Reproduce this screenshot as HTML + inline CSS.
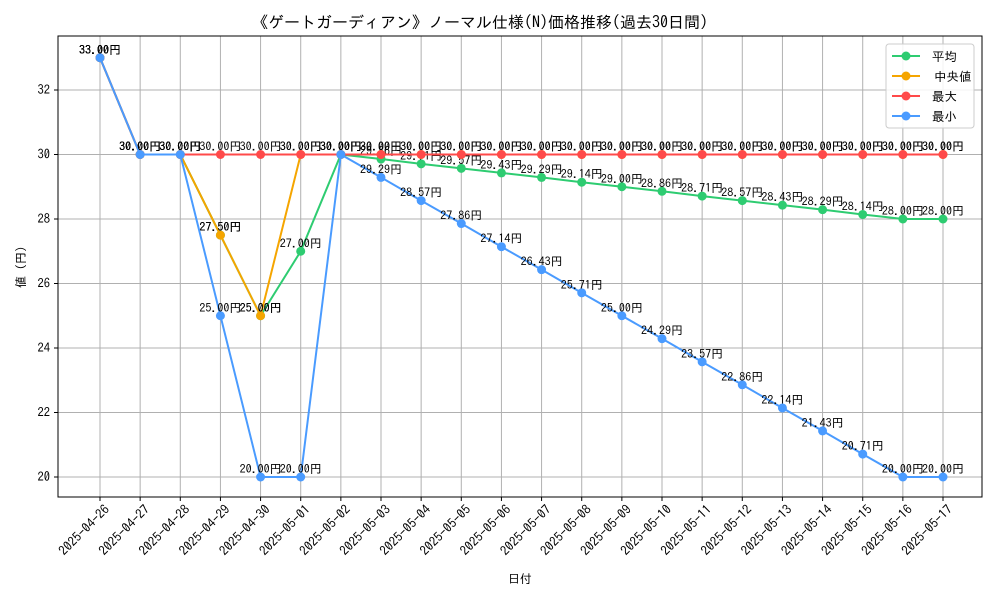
<!DOCTYPE html>
<html><head><meta charset="utf-8"><style>
body{margin:0;background:#fff}
text{font-family:"IPAGothic","Liberation Sans","Noto Sans CJK JP",sans-serif}
</style></head><body>
<svg id="c" width="1000" height="600" xmlns="http://www.w3.org/2000/svg">
<rect width="1000" height="600" fill="#fff"/>
<text x="480" y="28" text-anchor="middle" font-size="16">《ゲートガーディアン》ノーマル仕様(N)価格推移(過去30日間)</text>
<g id="grid"></g><g id="axes"></g><g id="series"></g><g id="labels"></g>
<rect x="58" y="36" width="924" height="461" fill="none" stroke="#000" stroke-width="1"/>
<text x="520" y="583" text-anchor="middle" font-size="12">日付</text>
<text transform="translate(25,267) rotate(-90)" text-anchor="middle" font-size="12">値 (円)</text>
<g id="legend"></g>
</svg>
<script>
const dates=["2025-04-26","2025-04-27","2025-04-28","2025-04-29","2025-04-30","2025-05-01","2025-05-02","2025-05-03","2025-05-04","2025-05-05","2025-05-06","2025-05-07","2025-05-08","2025-05-09","2025-05-10","2025-05-11","2025-05-12","2025-05-13","2025-05-14","2025-05-15","2025-05-16","2025-05-17"];
const avgVals=[33,30,30,27.5,25,27,30,29.86,29.71,29.57,29.43,29.29,29.14,29.00,28.86,28.71,28.57,28.43,28.29,28.14,28.00,28.00];
const medVals=[33,30,30,27.5,25,30,30,30,30,30,30,30,30,30,30,30,30,30,30,30,30,30];
const maxVals=[33,30,30,30,30,30,30,30,30,30,30,30,30,30,30,30,30,30,30,30,30,30];
const minVals=[33,30,30,25,20,20,30,29.29,28.57,27.86,27.14,26.43,25.71,25.00,24.29,23.57,22.86,22.14,21.43,20.71,20.00,20.00];
const yTicks=[20,22,24,26,28,30,32];
const seriesNames=["平均","中央値","最大","最小"];
const NS="http://www.w3.org/2000/svg";
const X=i=>100+i*(943-100)/21;
const Y=v=>477-(v-20)*(477-90)/12;
function mk(t,a,p){const e=document.createElementNS(NS,t);for(const k in a)e.setAttribute(k,a[k]);p.appendChild(e);return e;}
const grid=document.getElementById('grid'),axes=document.getElementById('axes');
dates.forEach((d,i)=>{
 const l=mk('line',{x1:X(i),x2:X(i),y1:36,y2:497,stroke:'#b0b0b0','stroke-width':1},grid);
 
 
 mk('line',{x1:X(i),x2:X(i),y1:497,y2:501,stroke:'#000'},axes);
 const t=mk('text',{x:X(i)+4,y:504,'font-size':13,'text-anchor':'end',transform:`rotate(-45 ${X(i)+4} 504)`,'dominant-baseline':'hanging'},axes);
 t.textContent=d;
 
 
});
yTicks.forEach(v=>{
 const l=mk('line',{x1:58,x2:982,y1:Y(v),y2:Y(v),stroke:'#b0b0b0','stroke-width':1},grid);
 
 
 mk('line',{x1:54,x2:58,y1:Y(v),y2:Y(v),stroke:'#000'},axes);
 const t=mk('text',{x:50,y:Y(v)+4,'font-size':12.5,'text-anchor':'end'},axes);
 t.textContent=v;
 
 
});
const all=[[avgVals,'#2ecc71','avg'],[medVals,'#f5a500','median'],[maxVals,'#ff4a4a','max'],[minVals,'#4a9bff','min']];
const sg=document.getElementById('series');
all.forEach(([vals,col,nm])=>{
 const g=mk('g',{},sg);
 
 
 const p=mk('polyline',{points:vals.map((v,i)=>X(i)+','+Y(v)).join(' '),fill:'none',stroke:col,'stroke-width':2},g);
 
 
 vals.forEach((v,i)=>{
  const c=mk('circle',{cx:X(i),cy:Y(v),r:4.5,fill:col},g);
  
  
  const t=mk('text',{x:X(i),y:Y(v)-4,'font-size':12,'text-anchor':'middle'},g);
  t.textContent=v.toFixed(2)+'円';
  
  
 });
});
const leg=document.getElementById('legend');
const box=mk('rect',{x:886,y:44,width:88,height:84,rx:3,fill:'#fff','fill-opacity':0.85,stroke:'#ccc'},leg);


all.forEach(([v,col,nm],k)=>{
 const y=56+k*20;
 const g=mk('g',{},leg);
 
 
 mk('line',{x1:892,x2:920,y1:y,y2:y,stroke:col,'stroke-width':2},g);
 mk('circle',{cx:906,cy:y,r:4.5,fill:col},g);
 const t=mk('text',{x:932+(k==1?2:0),y:y+5,'font-size':12.5},g);
 t.textContent=seriesNames[k];
});
</script>
</body></html>
